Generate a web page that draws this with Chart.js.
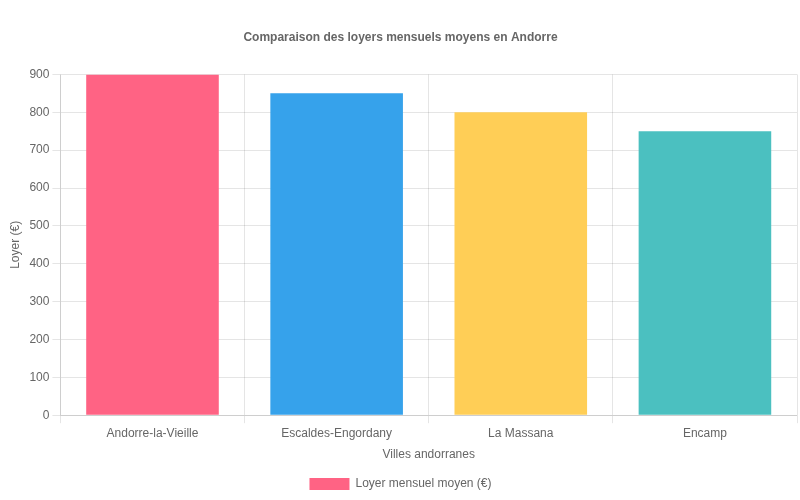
<!DOCTYPE html>
<html><head><meta charset="utf-8">
<script src="https://cdn.jsdelivr.net/npm/chart.js@4"></script>
<style>html,body{margin:0;padding:0;background:#fff}#w{width:800px;height:500px}</style>
</head><body><div id="w"><canvas id="c"></canvas></div>
<script>
const categories = ["Andorre-la-Vieille", "Escaldes-Engordany", "La Massana", "Encamp"];
const rents = [900, 850, 800, 750];
const colors = ["#FF6384", "#36A2EB", "#FFCE56", "#4BC0C0"];
Chart.defaults.font.family = "'Liberation Sans', Arial, sans-serif";
Chart.defaults.color = "#666";
new Chart(document.getElementById('c'), {
  type: 'bar',
  data: { labels: categories, datasets: [{ label: 'Loyer mensuel moyen (€)', data: rents, backgroundColor: colors }] },
  options: {
    responsive: true, maintainAspectRatio: false, animation: false,
    layout: { padding: { top: 30, left: 4, right: 3, bottom: 0 } },
    plugins: {
      title: { display: true, text: 'Comparaison des loyers mensuels moyens en Andorre', font: { size: 12, weight: 'bold' }, padding: { top: 0, bottom: 30 } },
      legend: { position: 'bottom', labels: { padding: 12 } }
    },
    scales: {
      y: { min: 0, max: 900, ticks: { stepSize: 100 }, title: { display: true, text: 'Loyer (€)' } },
      x: { title: { display: true, text: 'Villes andorranes' } }
    }
  }
});
</script></body></html>
